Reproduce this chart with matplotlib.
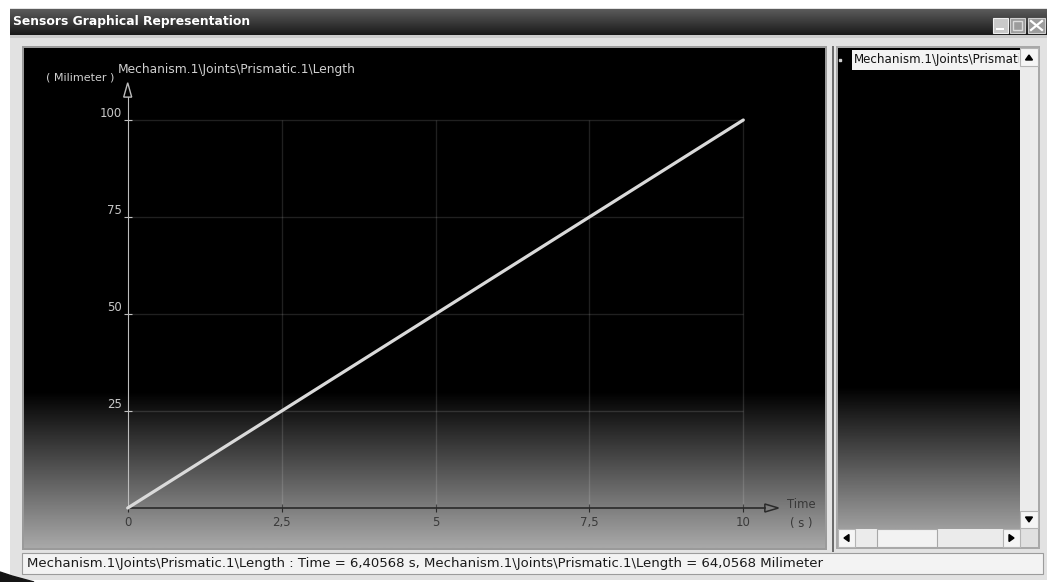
import numpy as np
import matplotlib
matplotlib.use('Agg')
import matplotlib.pyplot as plt
from matplotlib.patches import Rectangle, Polygon

# values
time_s = [0, 2.5, 5, 7.5, 10]
length_mm = [0, 25, 50, 75, 100]
x_ticks = [0, 2.5, 5, 7.5, 10]
x_tick_labels = ['0', '2,5', '5', '7,5', '10']
y_ticks = [25, 50, 75, 100]
y_tick_labels = ['25', '50', '75', '100']

sensor_name = 'Mechanism.1\\Joints\\Prismatic.1\\Length'
y_unit = '( Milimeter )'
x_name = 'Time'
x_unit = '( s )'
title = 'Sensors Graphical Representation'
status_text = sensor_name + ' : Time = 6,40568 s, ' + sensor_name + ' = 64,0568 Milimeter'

W, H = 1047, 582
fig = plt.figure(figsize=(W / 100, H / 100), dpi=100, facecolor='white')

# window chrome drawn in pixel coordinates
bg = fig.add_axes([0, 0, 1, 1])
bg.axis('off')


def rect(x0, y0, x1, y1, fc, ec='none', lw=0, z=1):
    bg.add_patch(Rectangle((x0, y0), x1 - x0, y1 - y0, facecolor=fc,
                           edgecolor=ec, linewidth=lw, zorder=z))


def vgrad(x0, y0, x1, y1, start, stop, top_val, bottom_val, z=2):
    ys = np.linspace(y0, y1, 400)
    t = np.clip((ys - start) / (stop - start), 0, 1)
    v = top_val + (bottom_val - top_val) * t
    bg.imshow(v[:, None], cmap='gray', vmin=0, vmax=1, extent=(x0, x1, y1, y0),
              aspect='auto', zorder=z, interpolation='bilinear')


# frame and title bar
rect(10, 8, W, 580, '#e2e2e2')
vgrad(10, 9, W, 35, 9, 35, 0.36, 0.10)
bg.text(13, 22, title, color='white', fontsize=8.9, fontweight='bold',
        va='center', ha='left', zorder=5)
rect(10, 35, W, 38, '#cdcdcd', z=2)

# title buttons
rect(993, 18, 1008, 33, '#c9c9c9', ec='#f0f0f0', lw=0.8, z=4)
rect(996, 28, 1004, 30, 'white', z=5)
rect(1010, 18, 1025, 33, '#9c9c9c', ec='#d0d0d0', lw=0.8, z=4)
rect(1013, 21, 1022, 30, 'none', ec='#dcdcdc', lw=1.0, z=5)
rect(1028, 18, 1045, 33, '#9c9c9c', ec='#d0d0d0', lw=0.8, z=4)
bg.plot([1031, 1042], [21, 30], color='white', lw=1.6, zorder=5)
bg.plot([1031, 1042], [30, 21], color='white', lw=1.6, zorder=5)

# main graph panel
rect(22, 46, 827, 550, '#9a9a9a', z=2)
vgrad(24, 48, 825, 548, 392, 548, 0.0, 0.66, z=3)
rect(827, 46, 837, 550, '#e4e4e4', z=2)
rect(832, 46, 834, 552, '#6c6c6c', z=3)

# right list panel
rect(836, 46, 1040, 549, '#a8a8a8', z=2)
vgrad(838, 48, 1020, 529, 387, 529, 0.0, 0.62, z=3)
rect(852, 50, 1020, 70, '#f3f3f3', z=4)
bg.plot([840], [60], marker='s', ms=1.5, color='#d0d0d0', zorder=5)
t = bg.text(854, 60, sensor_name, color='#111111', fontsize=8.6, va='center',
            ha='left', zorder=6, clip_on=True)
t.set_clip_path(Rectangle((852, 50), 167, 20, transform=bg.transData))

# scrollbars
rect(1020, 48, 1038, 528, '#ebebeb', z=4)
rect(1020, 48, 1038, 66, '#f5f5f5', ec='#b4b4b4', lw=0.8, z=5)
bg.add_patch(Polygon([(1025.5, 60), (1032.5, 60), (1029, 55)], color='black', zorder=6))
rect(1020, 511, 1038, 528, '#f5f5f5', ec='#b4b4b4', lw=0.8, z=5)
bg.add_patch(Polygon([(1025.5, 517), (1032.5, 517), (1029, 522)], color='black', zorder=6))
rect(838, 529, 1020, 547, '#ebebeb', z=4)
rect(838, 529, 855, 547, '#f5f5f5', ec='#b4b4b4', lw=0.8, z=5)
bg.add_patch(Polygon([(844, 538), (849, 534.5), (849, 541.5)], color='black', zorder=6))
rect(877, 529, 937, 547, '#f2f2f2', ec='#a8a8a8', lw=0.8, z=5)
rect(1003, 529, 1020, 547, '#f5f5f5', ec='#b4b4b4', lw=0.8, z=5)
bg.add_patch(Polygon([(1014, 538), (1009, 534.5), (1009, 541.5)], color='black', zorder=6))
rect(1020, 528, 1038, 547, '#e0e0e0', z=4)

# status bar
rect(22, 553, 1043, 574, '#f3f3f3', ec='#9c9c9c', lw=0.8, z=2)
bg.text(27, 563.5, status_text, color='#1a1a1a', fontsize=9.5, va='center',
        ha='left', zorder=5)
bg.add_patch(Polygon([(0, 572), (12, 576), (34, 582), (0, 582)], color='#151515', zorder=6))

# axis captions
bg.text(80, 77, y_unit, color='#d0d0d0', fontsize=8.0, ha='center', va='center', zorder=5)
bg.text(118, 70, sensor_name, color='#d0d0d0', fontsize=8.8, ha='left', va='center', zorder=5)
bg.text(801, 505, x_name, color='#383838', fontsize=8.4, ha='center', va='center', zorder=5)
bg.text(801, 523, x_unit, color='#383838', fontsize=8.4, ha='center', va='center', zorder=5)

bg.set_xlim(0, W)
bg.set_ylim(H, 0)

# graph axes: x=0 at px 127.7, 61.56 px/s ; y=0 at px 508, 3.88 px/mm
ax = fig.add_axes([24 / W, (H - 548) / H, (825 - 24) / W, (548 - 48) / H])
ax.set_zorder(3)
ax.patch.set_visible(False)
ax.set_xlim((24 - 127.7) / 61.56, (825 - 127.7) / 61.56)
ax.set_ylim((508 - 548) / 3.88, (508 - 48) / 3.88)

ax.vlines(x_ticks[1:], 0, 100, colors='white', alpha=0.13, lw=1)
ax.hlines(y_ticks, 0, 10, colors='white', alpha=0.13, lw=1)
ax.plot(time_s, length_mm, color='#dadada', lw=2.3, solid_capstyle='round', zorder=4)

for s in ['top', 'right']:
    ax.spines[s].set_visible(False)
ax.spines['left'].set_position(('data', 0))
ax.spines['left'].set_bounds(0, 105.9)
ax.spines['left'].set_color('#bdbdbd')
ax.spines['bottom'].set_position(('data', 0))
ax.spines['bottom'].set_bounds(0, 10.35)
ax.spines['bottom'].set_color('#2a2a2a')
ax.spines['bottom'].set_linewidth(1.2)

ax.add_patch(Polygon([(0, 109.6), (-4 / 61.56, 105.9), (4 / 61.56, 105.9)],
                     closed=True, fill=False, edgecolor='#bdbdbd', lw=1, clip_on=False))
ax.add_patch(Polygon([(10.57, 0), (10.35, 4 / 3.88), (10.35, -4 / 3.88)],
                     closed=True, fill=False, edgecolor='#2a2a2a', lw=1.1, clip_on=False))

ax.set_xticks(x_ticks, x_tick_labels)
ax.set_yticks(y_ticks, y_tick_labels)
ax.tick_params(axis='x', direction='inout', length=6, color='#2a2a2a',
               labelcolor='#3a3a3a', labelsize=8.5, pad=3)
ax.tick_params(axis='y', direction='inout', length=6, color='#bdbdbd',
               labelcolor='#c8c8c8', labelsize=8.5, pad=1)
for lab in ax.get_yticklabels():
    lab.set_va('bottom')

fig.savefig('out.png', dpi=100, facecolor='white')
